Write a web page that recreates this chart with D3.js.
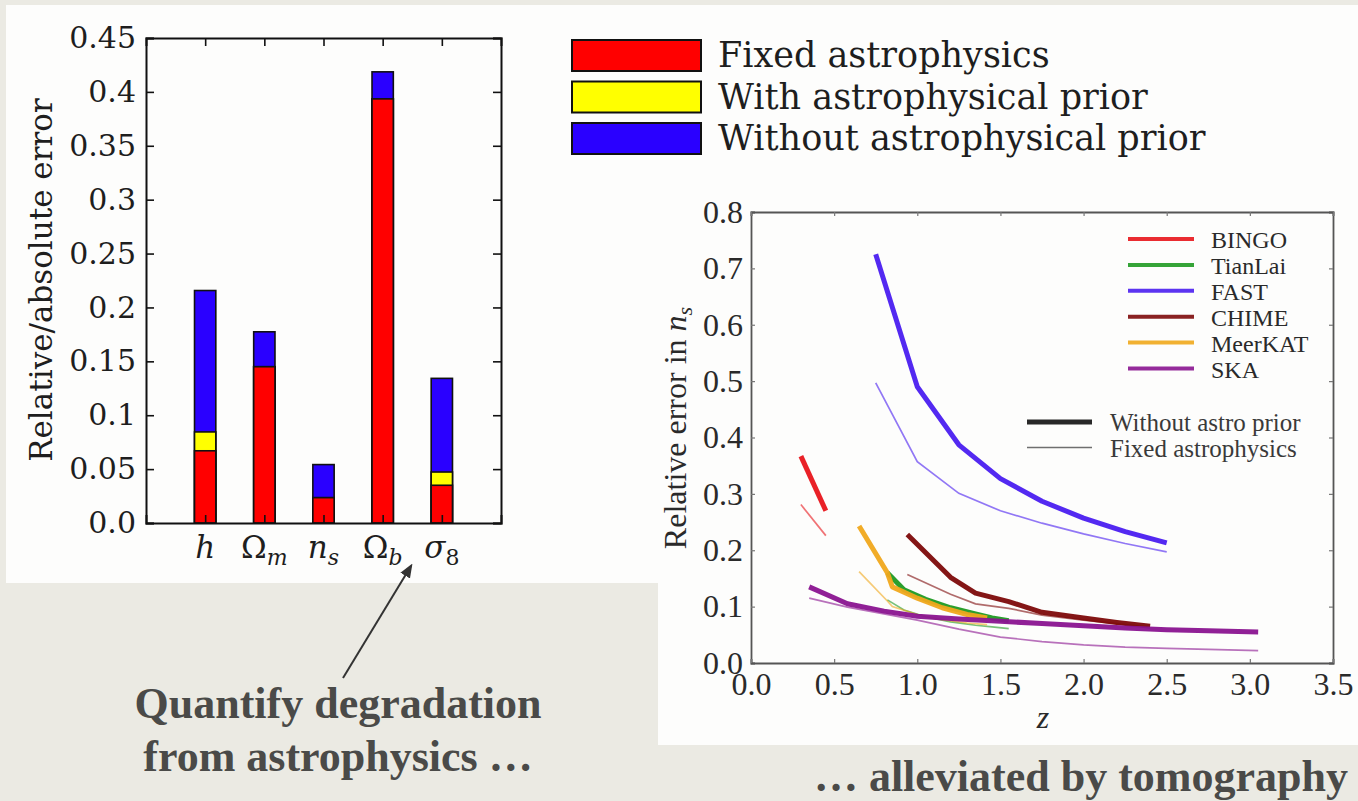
<!DOCTYPE html>
<html>
<head>
<meta charset="utf-8">
<script src="https://cdn.jsdelivr.net/npm/d3@7"></script>
<style>
  body { margin: 0; background: #ebeae3; }
  svg { display: block; }
</style>
</head>
<body>
<svg id="canvas" width="1358" height="801"></svg>
<script>
// --- bar chart data (left) ---
const paramBase = ['h', 'Ω', 'n', 'Ω', 'σ']
const paramSub = ['', 'm', 's', 'b', '8']
const fixedAstro = [0.067, 0.145, 0.0235, 0.3935, 0.035]
const withPrior = [0.0845, 0.145, 0.0235, 0.3935, 0.0473]
const withoutPrior = [0.2157, 0.1774, 0.0542, 0.4186, 0.1342]
const barTicks = [0, 0.05, 0.1, 0.15, 0.2, 0.25, 0.3, 0.35, 0.4, 0.45]
const barTickLabels = ['0.0', '0.05', '0.1', '0.15', '0.2', '0.25', '0.3', '0.35', '0.4', '0.45']
const barLegend = ['Fixed astrophysics', 'With astrophysical prior', 'Without astrophysical prior']

// --- tomography data (right) ---
const surveys = ['BINGO', 'TianLai', 'FAST', 'CHIME', 'MeerKAT', 'SKA']
const bingoZ = [0.30, 0.45]
const bingoWithout = [0.367, 0.270]
const bingoFixed = [0.281, 0.226]
const tianlaiZ = [0.82, 0.92, 1.05, 1.2, 1.35, 1.45, 1.55]
const tianlaiWithout = [0.16, 0.13, 0.113, 0.098, 0.087, 0.080, 0.075]
const tianlaiFixed = [0.112, 0.094, 0.082, 0.073, 0.067, 0.064, 0.061]
const fastZ = [0.75, 1.0, 1.25, 1.5, 1.75, 2.0, 2.25, 2.5]
const fastWithout = [0.725, 0.49, 0.387, 0.327, 0.287, 0.257, 0.233, 0.213]
const fastFixed = [0.497, 0.357, 0.301, 0.27, 0.248, 0.229, 0.212, 0.197]
const chimeZ = [0.94, 1.2, 1.35, 1.55, 1.75, 2.0, 2.2, 2.4]
const chimeWithout = [0.228, 0.152, 0.124, 0.109, 0.09, 0.08, 0.072, 0.065]
const chimeFixed = [0.157, 0.122, 0.105, 0.097, 0.085, 0.076, 0.070, 0.063]
const meerkatZ = [0.65, 0.82, 0.85, 1.0, 1.15, 1.3, 1.42]
const meerkatWithout = [0.243, 0.16, 0.135, 0.115, 0.098, 0.086, 0.080]
const meerkatFixed = [0.162, 0.11, 0.10, 0.086, 0.077, 0.071, 0.068]
const skaZ = [0.35, 0.58, 0.8, 1.0, 1.25, 1.5, 1.75, 2.0, 2.25, 2.5, 2.75, 3.05]
const skaWithout = [0.135, 0.105, 0.092, 0.083, 0.078, 0.074, 0.070, 0.066, 0.062, 0.059, 0.057, 0.055]
const skaFixed = [0.115, 0.099, 0.087, 0.076, 0.060, 0.046, 0.038, 0.032, 0.028, 0.026, 0.024, 0.022]
const zTicks = [0, 0.5, 1.0, 1.5, 2.0, 2.5, 3.0, 3.5]
const errTicks = [0, 0.1, 0.2, 0.3, 0.4, 0.5, 0.6, 0.7, 0.8]

const surveyColors = ['#e8151b', '#1f9a22', '#4a1ef0', '#7d0a0a', '#f0a81c', '#8a1490']
const barColors = ['#ff0000', '#ffff00', '#2a00ff']

let canvas = d3.select('#canvas')
const cmFont = 'DejaVu Serif'
const tFont = 'Liberation Serif'

// backgrounds (slide + white figure panels)
canvas.append('rect').attr('width', 1358).attr('height', 801).attr('fill', '#ebeae3')
canvas.append('rect').attr('x', 6).attr('y', 5).attr('width', 652).attr('height', 578).attr('fill', '#fdfdfc')
canvas.append('rect').attr('x', 658).attr('y', 5).attr('width', 700).attr('height', 740).attr('fill', '#fdfdfc')

// ================= left: stacked error bars =================
let drawBars = () => {
    let x = d3.scaleLinear().domain([0, 6]).range([146, 501])
    let y = d3.scaleLinear().domain([0, 0.45]).range([523, 38])
    let barW = x(0.36) - x(0)
    let g = canvas.append('g')

    let layers = [withoutPrior, withPrior, fixedAstro]
    let layerColors = [barColors[2], barColors[1], barColors[0]]
    layers.forEach((vals, li) => {
        g.selectAll('.bar' + li)
         .data(vals)
         .enter()
         .append('rect')
         .attr('x', (d, i) => x(i + 1) - barW / 2)
         .attr('y', (d) => y(d))
         .attr('width', barW)
         .attr('height', (d) => y(0) - y(d))
         .attr('fill', layerColors[li])
         .attr('stroke', '#111')
         .attr('stroke-width', 1.6)
    })

    let yLeft = d3.axisLeft(y).tickValues(barTicks).tickSize(-8).tickPadding(10)
                  .tickFormat((d, i) => barTickLabels[i])
    let yRight = d3.axisRight(y).tickValues(barTicks).tickSize(-8).tickFormat('')
    let xBottom = d3.axisBottom(x).tickValues([1, 2, 3, 4, 5]).tickSize(-8).tickFormat('')
    let xTop = d3.axisTop(x).tickValues([1, 2, 3, 4, 5]).tickSize(-8).tickFormat('')

    let axes = [
        g.append('g').attr('transform', 'translate(146,0)').call(yLeft),
        g.append('g').attr('transform', 'translate(501,0)').call(yRight),
        g.append('g').attr('transform', 'translate(0,523)').call(xBottom),
        g.append('g').attr('transform', 'translate(0,38)').call(xTop)
    ]
    axes.forEach((a) => {
        a.select('.domain').attr('stroke', '#111').attr('stroke-width', 2)
        a.selectAll('.tick line').attr('stroke', '#111').attr('stroke-width', 1.6)
        a.selectAll('text').attr('font-family', cmFont).attr('font-size', 30).attr('fill', '#1e1e1e')
    })

    // parameter labels with subscripts
    g.selectAll('.plabel')
     .data(paramBase)
     .enter()
     .append('text')
     .attr('x', (d, i) => x(i + 1))
     .attr('y', 558)
     .attr('text-anchor', 'middle')
     .attr('font-family', cmFont)
     .attr('font-size', 31)
     .attr('fill', '#1e1e1e')
     .each(function(d, i) {
        let t = d3.select(this)
        t.append('tspan').text(d).attr('font-style', d === 'Ω' ? 'normal' : 'italic')
        if (paramSub[i]) {
            t.append('tspan').text(paramSub[i])
             .attr('font-size', 22)
             .attr('dy', 7)
             .attr('font-style', paramSub[i] === '8' ? 'normal' : 'italic')
        }
     })

    g.append('text')
     .attr('transform', 'translate(52,280) rotate(-90)')
     .attr('text-anchor', 'middle')
     .attr('font-family', cmFont)
     .attr('font-size', 31)
     .attr('fill', '#1e1e1e')
     .text('Relative/absolute error')

    // legend
    let leg = canvas.append('g')
    barLegend.forEach((label, i) => {
        leg.append('rect')
           .attr('x', 572).attr('y', 40 + i * 41.5)
           .attr('width', 129).attr('height', 31)
           .attr('fill', barColors[i])
           .attr('stroke', '#111').attr('stroke-width', 2)
        leg.append('text')
           .attr('x', 718).attr('y', 67 + i * 41.5)
           .attr('font-family', cmFont)
           .attr('font-size', 35)
           .attr('fill', '#1e1e1e')
           .text(label)
    })
}

// ================= right: error in n_s vs z =================
let drawTomography = () => {
    let x = d3.scaleLinear().domain([0, 3.5]).range([751, 1333])
    let y = d3.scaleLinear().domain([0, 0.8]).range([663, 212])
    let g = canvas.append('g')

    let series = [
        [bingoZ, bingoWithout, bingoFixed],
        [tianlaiZ, tianlaiWithout, tianlaiFixed],
        [fastZ, fastWithout, fastFixed],
        [chimeZ, chimeWithout, chimeFixed],
        [meerkatZ, meerkatWithout, meerkatFixed],
        [skaZ, skaWithout, skaFixed]
    ]
    let line = d3.line().x((d) => x(d[0])).y((d) => y(d[1]))

    series.forEach((s, i) => {
        let thick = s[0].map((z, j) => [z, s[1][j]])
        let thin = s[0].map((z, j) => [z, s[2][j]])
        g.append('path').datum(thick).attr('d', line)
         .attr('fill', 'none').attr('stroke', surveyColors[i])
         .attr('stroke-width', 5).attr('stroke-opacity', 0.95)
         .attr('stroke-linejoin', 'round')
        g.append('path').datum(thin).attr('d', line)
         .attr('fill', 'none').attr('stroke', surveyColors[i])
         .attr('stroke-width', 1.7).attr('stroke-opacity', 0.6)
    })

    let fmt = d3.format('.1f')
    let axes = [
        g.append('g').attr('transform', 'translate(751,0)')
         .call(d3.axisLeft(y).tickValues(errTicks).tickSize(-4).tickPadding(8).tickFormat(fmt)),
        g.append('g').attr('transform', 'translate(1333,0)')
         .call(d3.axisRight(y).tickValues(errTicks).tickSize(-4).tickFormat('')),
        g.append('g').attr('transform', 'translate(0,663)')
         .call(d3.axisBottom(x).tickValues(zTicks).tickSize(-4).tickPadding(9).tickFormat(fmt)),
        g.append('g').attr('transform', 'translate(0,212)')
         .call(d3.axisTop(x).tickValues(zTicks).tickSize(-4).tickFormat(''))
    ]
    axes.forEach((a) => {
        a.select('.domain').attr('stroke', '#555').attr('stroke-width', 1.8)
        a.selectAll('.tick line').attr('stroke', '#777').attr('stroke-width', 1.2)
        a.selectAll('text').attr('font-family', tFont).attr('font-size', 32).attr('fill', '#2a2a2a')
    })

    g.append('text')
     .attr('x', 1043).attr('y', 728)
     .attr('text-anchor', 'middle')
     .attr('font-family', tFont).attr('font-style', 'italic')
     .attr('font-size', 32).attr('fill', '#2a2a2a')
     .text('z')

    let yl = g.append('text')
     .attr('transform', 'translate(686,428) rotate(-90)')
     .attr('text-anchor', 'middle')
     .attr('font-family', tFont)
     .attr('font-size', 32).attr('fill', '#2a2a2a')
    yl.append('tspan').text('Relative error in ')
    yl.append('tspan').text('n').attr('font-style', 'italic')
    yl.append('tspan').text('s').attr('font-style', 'italic').attr('font-size', 22).attr('dy', 6)

    // survey legend
    surveys.forEach((name, i) => {
        let ly = 239 + i * 25.9
        g.append('line')
         .attr('x1', 1128).attr('x2', 1194).attr('y1', ly).attr('y2', ly)
         .attr('stroke', surveyColors[i]).attr('stroke-width', 4).attr('stroke-opacity', 0.9)
        g.append('text')
         .attr('x', 1211).attr('y', ly + 9)
         .attr('font-family', tFont).attr('font-size', 24).attr('fill', '#2a2a2a')
         .text(name)
    })
    let styles = [['Without astro prior', 5, 0.9], ['Fixed astrophysics', 1.6, 0.6]]
    styles.forEach((s, i) => {
        let ly = 422 + i * 25.5
        g.append('line')
         .attr('x1', 1027).attr('x2', 1092).attr('y1', ly).attr('y2', ly)
         .attr('stroke', '#111').attr('stroke-width', s[1]).attr('stroke-opacity', s[2])
        g.append('text')
         .attr('x', 1110).attr('y', ly + 9)
         .attr('font-family', tFont).attr('font-size', 25).attr('fill', '#3a3a3a')
         .text(s[0])
    })
}

drawBars()
drawTomography()

// slide annotations
let defs = canvas.append('defs')
defs.append('marker')
    .attr('id', 'head').attr('viewBox', '0 0 10 10')
    .attr('refX', 8).attr('refY', 5)
    .attr('markerWidth', 7).attr('markerHeight', 7)
    .attr('orient', 'auto')
    .append('path').attr('d', 'M0,1 L10,5 L0,9 z').attr('fill', '#333')

canvas.append('line')
      .attr('x1', 343).attr('y1', 678).attr('x2', 411).attr('y2', 566)
      .attr('stroke', '#333').attr('stroke-width', 2)
      .attr('marker-end', 'url(#head)')

let notes = [
    ['Quantify degradation', 338, 718, 'middle'],
    ['from astrophysics …', 338, 771, 'middle'],
    ['… alleviated by tomography', 1348, 791, 'end']
]
notes.forEach((n) => {
    canvas.append('text')
          .attr('x', n[1]).attr('y', n[2])
          .attr('text-anchor', n[3])
          .attr('font-family', tFont).attr('font-weight', 'bold')
          .attr('font-size', 44).attr('fill', '#4a4a48')
          .text(n[0])
})
</script>
</body>
</html>
